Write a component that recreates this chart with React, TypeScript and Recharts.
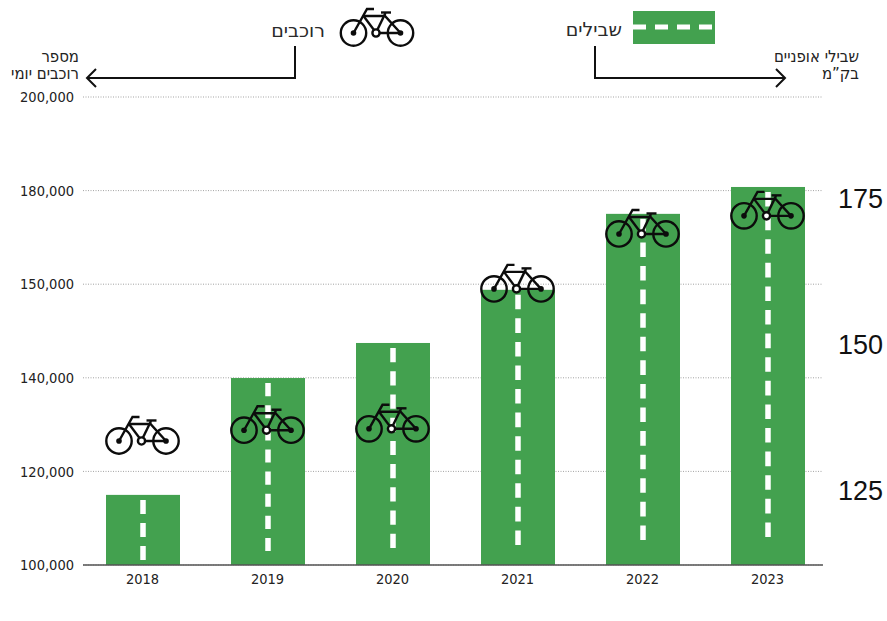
import React from 'react'
import { Bar, CartesianGrid, ComposedChart, Line, XAxis, YAxis } from 'recharts'

const years = ['2018', '2019', '2020', '2021', '2022', '2023']
// bike lanes in km, read against the right axis
const laneKm = [124.3, 144.3, 150.3, 159.4, 172.4, 177]
// daily riders, read against the left axis labels
const dailyRiders = [126500, 128800, 129100, 149500, 166100, 171900]
// the left axis labels are evenly spaced although their steps are not equal
const riderTicks = [100000, 120000, 140000, 150000, 180000, 200000]
const kmTicks = [125, 150, 175]

const GREEN = '#43a14f'
const DARK = '#222222'
const LABEL_FONT = '"DejaVu Sans Condensed", "DejaVu Sans", sans-serif'

// gap between the last lane dash and the baseline, per bar
const dashBottomGaps = [5, 14, 17, 20, 25, 28]

const data = years.map((year, i) => ({
  year,
  km: laneKm[i],
  riders: dailyRiders[i],
  dashGap: dashBottomGaps[i],
}))

// position of a rider count on the evenly spaced left axis
function riderPosition(value: number) {
  const i = riderTicks.findIndex((t, n) => value >= t && value < riderTicks[n + 1])
  return i + (value - riderTicks[i]) / (riderTicks[i + 1] - riderTicks[i])
}

function Bike({ cx, cy }: { cx: number; cy: number }) {
  return (
    <g transform={`translate(${cx},${cy})`} fill="none" stroke="#0c0c0c" strokeWidth={2.4}>
      <circle cx={-23.5} cy={0} r={12.7} />
      <circle cx={23.5} cy={0} r={12.7} />
      <circle cx={-1} cy={0} r={3.6} fill="#fff" />
      <circle cx={-23.5} cy={0} r={2.8} fill="#0c0c0c" stroke="none" />
      <circle cx={23.5} cy={0} r={2.8} fill="#0c0c0c" stroke="none" />
      <path d="M-23.5 0 L-10 -24 L-3 -24" />
      <path d="M-13.5 -17 L8 -17 L23.5 0 L2.5 0" />
      <path d="M-13.5 -17 L-3 -3" />
      <path d="M0.5 -3.5 L8.5 -20" />
      <path d="M4 -20.5 L14 -20.5" />
    </g>
  )
}

function LaneBar(props: any) {
  const { x, y, width, height, payload } = props
  const gap = 9
  const top = y + 5
  const bottom = y + height - payload.dashGap
  const span = bottom - top
  // whole dashes only, stretched a little to fill the bar
  const count = Math.round((span + gap) / 23)
  const period = (span + gap) / count
  const mid = x + width / 2
  return (
    <g>
      <rect x={x} y={y} width={width} height={height} fill={GREEN} />
      <line
        x1={mid}
        x2={mid}
        y1={bottom}
        y2={top}
        stroke="#fff"
        strokeWidth={5.5}
        strokeDasharray={`${period - gap} ${gap}`}
      />
    </g>
  )
}

function Header() {
  const textStyle = { fontFamily: '"DejaVu Sans", sans-serif', fontSize: 19, fill: '#2a2a2a' }
  const noteStyle = { fontFamily: LABEL_FONT, fontSize: 16.6, fill: '#222' }
  return (
    <svg width={887} height={100} style={{ position: 'absolute', left: 0, top: 0 }}>
      <Bike cx={377} cy={33} />
      <text x={325} y={37} textAnchor="end" {...textStyle}>רוכבים</text>
      <rect x={633} y={11} width={82} height={33} fill={GREEN} />
      <line x1={633} x2={714} y1={27} y2={27} stroke="#fff" strokeWidth={5} strokeDasharray="13 9" />
      <text x={622} y={36} textAnchor="end" {...textStyle}>שבילים</text>

      <path d="M295 46 V78 H87 M96 69 L87 78 L96 87" fill="none" stroke="#111" strokeWidth={2} />
      <path d="M595 46 V78 H784 M776 69 L785 78 L776 87" fill="none" stroke="#111" strokeWidth={2} />

      <text x={79} y={62} textAnchor="end" {...noteStyle}>מספר</text>
      <text x={79} y={79} textAnchor="end" {...noteStyle}>רוכבים יומי</text>
      <text x={859} y={62} textAnchor="end" {...noteStyle}>שבילי אופניים</text>
      <text x={859} y={79} textAnchor="end" {...noteStyle}>בק”מ</text>
    </svg>
  )
}

export default function App() {
  return (
    <div style={{ position: 'absolute', left: 0, top: 0, width: 887, height: 621, background: '#fff' }}>
      <ComposedChart
        width={887}
        height={621}
        data={data}
        margin={{ top: 97, right: 0, bottom: 0, left: 0 }}
        barCategoryGap={0}
      >
        <CartesianGrid
          yAxisId="riders"
          vertical={false}
          stroke="#a3a3a3"
          strokeDasharray="1 1.5"
        />
        <XAxis
          dataKey="year"
          height={56}
          padding={{ left: -3, right: -7 }}
          tickLine={false}
          axisLine={{ stroke: '#555', strokeWidth: 1.5 }}
          tick={{ fill: DARK, fontSize: 14.5, fontFamily: LABEL_FONT }}
          tickMargin={3}
        />
        <YAxis
          yAxisId="riders"
          orientation="left"
          width={83}
          type="number"
          domain={[0, riderTicks.length - 1]}
          ticks={riderTicks.map((_, i) => i)}
          interval={0}
          tickFormatter={(i: number) => riderTicks[i].toLocaleString('en-US')}
          tickLine={false}
          axisLine={false}
          tickMargin={3}
          tick={{ fill: DARK, fontSize: 14.5, fontFamily: LABEL_FONT }}
        />
        <YAxis
          yAxisId="km"
          orientation="right"
          width={64}
          type="number"
          domain={[112.3, 192.4]}
          allowDataOverflow
          ticks={kmTicks}
          interval={0}
          tickLine={false}
          axisLine={false}
          tickMargin={9}
          tick={{ fill: '#111', fontSize: 27, fontFamily: '"Liberation Sans", Arial, sans-serif' }}
        />
        <Bar
          yAxisId="km"
          dataKey="km"
          barSize={74}
          shape={<LaneBar />}
          isAnimationActive={false}
        />
        <Line
          yAxisId="riders"
          dataKey={(d: any) => riderPosition(d.riders)}
          stroke="none"
          dot={(p: any) => <Bike key={p.index} cx={p.cx} cy={p.cy} />}
          activeDot={false}
          isAnimationActive={false}
        />
      </ComposedChart>
      <Header />
    </div>
  )
}
